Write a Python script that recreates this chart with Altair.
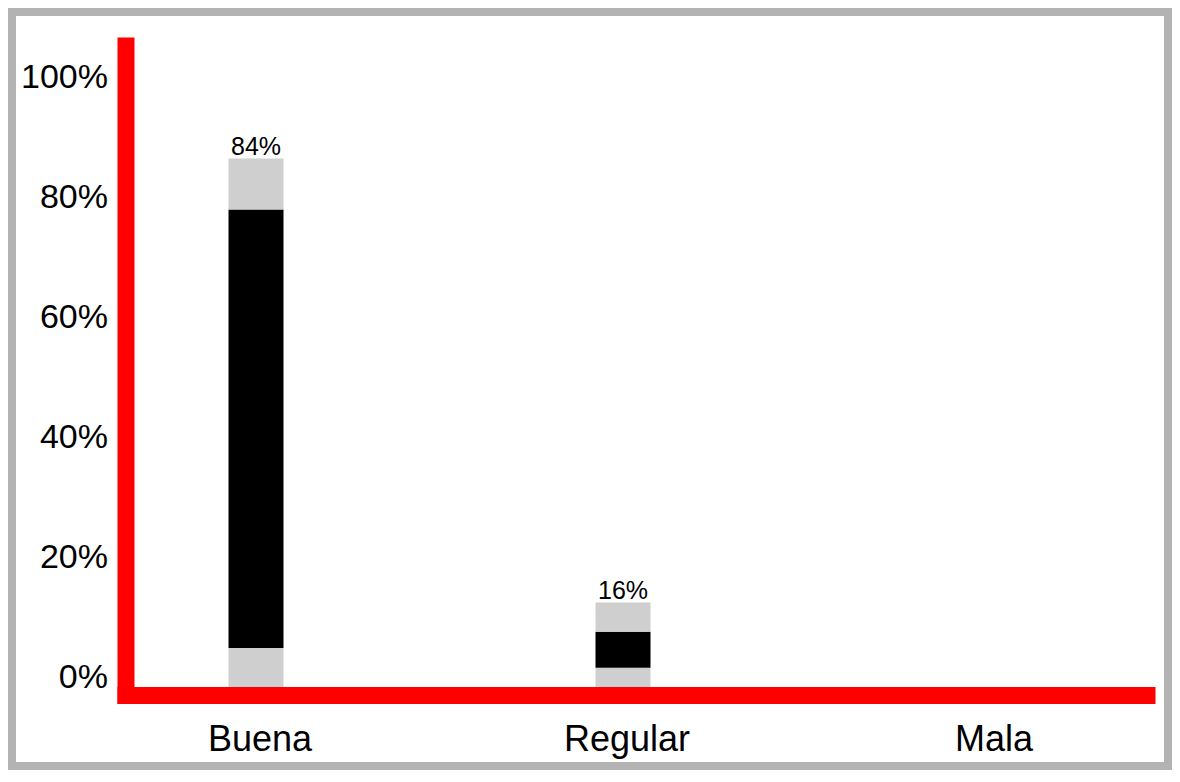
import altair as alt
import pandas as pd

# ---- data ----
categories = ["Buena", "Regular", "Mala"]
segments = ["inferior", "central", "superior"]
lower_gray = [6.5, 3.2, 0.0]
black_core = [73.1, 6.0, 0.0]
upper_gray = [8.5, 4.9, 0.0]
top_labels = ["84%", "16%", ""]
y_ticks = [0, 20, 40, 60, 80, 100]

seg_values = [lower_gray, black_core, upper_gray]
rows = []
for i, c in enumerate(categories):
    for j, s in enumerate(segments):
        rows.append({"cat": c, "seg": s, "ord": j, "val": seg_values[j][i]})
bars_df = pd.DataFrame(rows)

labels_df = pd.DataFrame({
    "cat": categories,
    "total": [lower_gray[i] + black_core[i] + upper_gray[i] for i in range(len(categories))],
    "label": top_labels,
})

FONT = "Liberation Sans"
RED = "#ff0000"

x_scale = alt.Scale(type="band", paddingInner=0.85014, paddingOuter=0.31608,
                    align=0.444, round=False)
y_scale = alt.Scale(domain=[-1.3333, 106.9167], nice=False, zero=False)

x_axis = alt.Axis(title=None, domain=True, domainColor=RED, domainWidth=17,
                  domainCap="square", ticks=False, tickSize=0, labelFontSize=36,
                  labelFont=FONT, labelColor="#000000", labelBaseline="alphabetic",
                  labelPadding=55, labelOffset=4, labelAngle=0, grid=False, zindex=1)
y_axis = alt.Axis(title=None, values=y_ticks, domain=True, domainColor=RED,
                  domainWidth=17, domainCap="square", ticks=False, tickSize=0,
                  labelFontSize=34, labelFont=FONT, labelColor="#000000",
                  labelBaseline="alphabetic", labelAlign="right", labelPadding=18,
                  labelExpr="datum.value + '%'", grid=False, zindex=1)

bars = alt.Chart(bars_df).mark_bar().encode(
    x=alt.X("cat:N", sort=categories, scale=x_scale, axis=x_axis),
    y=alt.Y("val:Q", stack="zero", scale=y_scale, axis=y_axis),
    color=alt.Color("seg:N", scale=alt.Scale(domain=segments,
                    range=["#cfcfcf", "#000000", "#cfcfcf"]), legend=None),
    order=alt.Order("ord:Q", sort="ascending"),
)

texts = alt.Chart(labels_df).mark_text(
    font=FONT, fontSize=25, baseline="alphabetic", align="center", dy=-3, color="#000000"
).encode(
    x=alt.X("cat:N", sort=categories, scale=x_scale, axis=x_axis),
    y=alt.Y("total:Q", scale=y_scale, axis=y_axis),
    text="label:N",
)

frame = alt.Chart(pd.DataFrame({"k": [0]})).mark_rect(
    fill="transparent", stroke="#b3b3b3", strokeWidth=8
).encode(
    x=alt.value(-113.5), x2=alt.value(1042.5),
    y=alt.value(-33.5), y2=alt.value(720.5),
)

chart = alt.layer(frame, bars, texts).properties(
    width=1021,
    height=649.5,
    autosize=alt.AutoSizeParams(type="none"),
    padding={"left": 117.5, "top": 37.5, "right": 25.5, "bottom": 75},
    background="#ffffff",
).configure_view(strokeWidth=0)

chart.save("out.html", embed_options={"renderer": "svg", "actions": False})
